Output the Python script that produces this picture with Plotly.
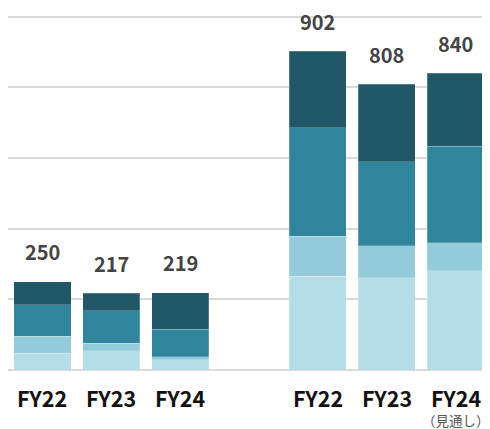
import plotly.graph_objects as go

categories = ["FY22", "FY23", "FY24", "FY22", "FY23", "FY24"]
groups = [0, 0, 0, 1, 1, 1]
seg1 = [48, 55, 29, 265, 261, 281]   # lightest (bottom)
seg2 = [47, 21, 9, 114, 90, 79]
seg3 = [90, 92, 77, 306, 238, 273]
seg4 = [65, 49, 104, 217, 219, 207]  # darkest (top)
totals = [250, 217, 219, 902, 808, 840]
note_label = "（見通し）"

colors = ["#b6dde7", "#93cbdb", "#30859c", "#215867"]
xpos = [i + g for i, g in enumerate(groups)]

fig = go.Figure()
for vals, c in zip([seg1, seg2, seg3, seg4], colors):
    fig.add_trace(go.Bar(x=xpos, y=vals, marker=dict(color=c, line=dict(width=0.6, color="rgba(255,255,255,0.35)")),
                         width=0.83, hoverinfo="skip"))

FONT = "Noto Sans CJK JP"
for x, t in zip(xpos, totals):
    fig.add_annotation(x=x, y=t, text=f"<b>{t}</b>", showarrow=False, yshift=30,
                       font=dict(family=FONT, size=20, color="#444444"))
for x, c in zip(xpos, categories):
    fig.add_annotation(x=x, y=0, text=f"<b>{c}</b>", showarrow=False, yshift=-27,
                       font=dict(family=FONT, size=21.5, color="#111111"), height=24)
fig.add_annotation(x=xpos[-1], y=0, text=note_label, showarrow=False, yshift=-50,
                   font=dict(family=FONT, size=13.5, color="#555555"), height=16)

fig.update_layout(
    barmode="stack", width=482, height=421, showlegend=False,
    plot_bgcolor="white", paper_bgcolor="white",
    margin=dict(l=0, r=0, t=5, b=59),
    xaxis=dict(range=[-0.5, 6.5], showticklabels=False, showgrid=False, zeroline=False, fixedrange=True),
    yaxis=dict(range=[0, 1010], tickvals=[0, 200, 400, 600, 800, 1000], showticklabels=False, showgrid=True,
               gridcolor="#d9d9d9", gridwidth=2, zeroline=True, zerolinecolor="#d9d9d9", zerolinewidth=2),
    bargap=0.17,
)
fig.write_html("out.html")
